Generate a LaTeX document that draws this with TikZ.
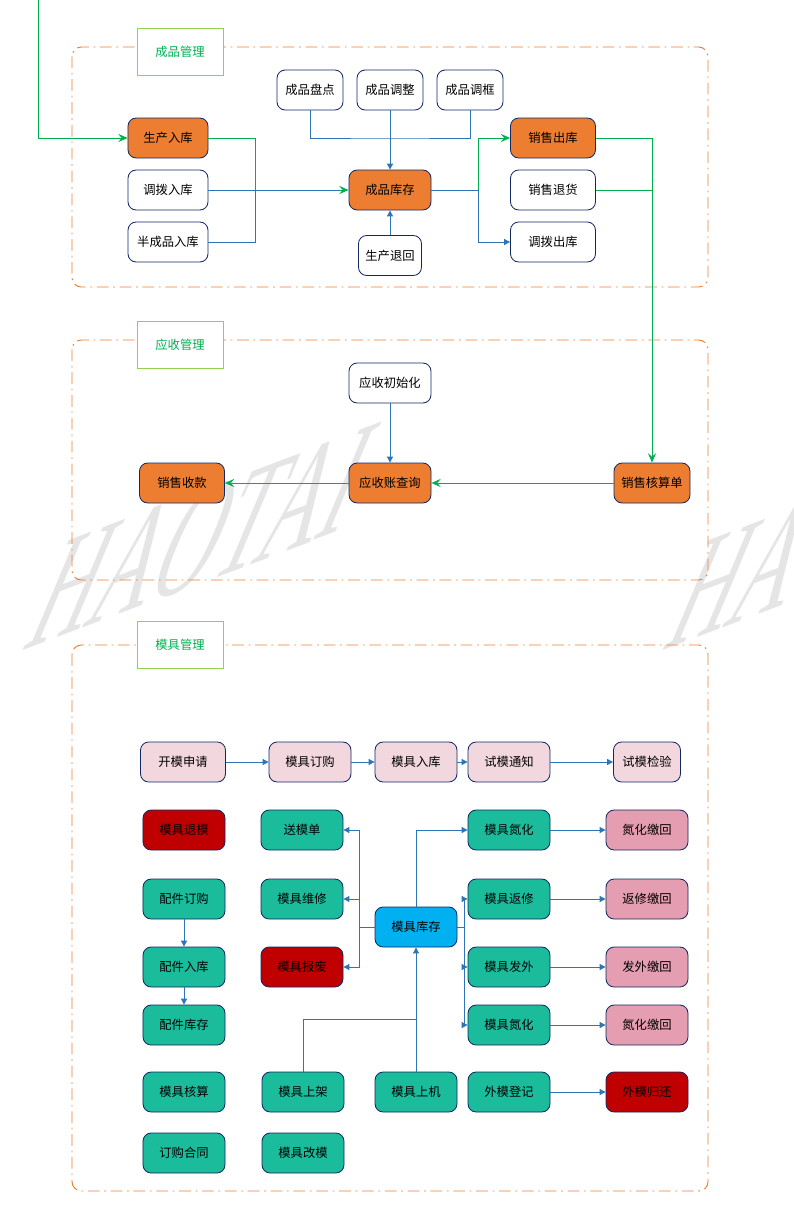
\documentclass[tikz,border=0pt]{standalone}
\usepackage{fontspec}
\setmainfont{Noto Sans CJK SC}
\newfontfamily\wmfont{Liberation Serif}
\usetikzlibrary{arrows.meta, positioning}
\definecolor{orange1}{RGB}{237,125,49}
\definecolor{navy1}{RGB}{16,40,100}
\definecolor{blue1}{RGB}{46,117,182}
\definecolor{green1}{RGB}{0,176,80}
\definecolor{lime1}{RGB}{146,208,80}
\definecolor{pink1}{RGB}{242,215,222}
\definecolor{pink2}{RGB}{229,157,177}
\definecolor{teal1}{RGB}{26,188,156}
\definecolor{red1}{RGB}{192,0,0}
\definecolor{sky1}{RGB}{0,176,240}

\begin{document}
\begin{tikzpicture}[
  x=0.03cm, y=-0.03cm,
  fbox/.style={draw=navy1, fill=white, line width=0.7pt, rounded corners=7pt, minimum width=2.4cm, minimum height=1.2cm, inner sep=2pt, font=\fontsize{10.5}{12}\selectfont},
  obox/.style={fbox, fill=orange1},
  pbox/.style={fbox, fill=pink1, minimum width=2.46cm},
  kbox/.style={fbox, fill=pink2, minimum width=2.46cm},
  tbox/.style={fbox, fill=teal1, minimum width=2.46cm},
  rbox/.style={fbox, fill=red1, minimum width=2.46cm},
  sbox/.style={fbox, fill=sky1, minimum width=2.46cm},
  tag/.style={draw=lime1, fill=white, line width=0.8pt, minimum width=2.58cm, minimum height=1.41cm, text=green1, font=\fontsize{10.5}{12}\selectfont},
  panel/.style={draw=orange1, line width=0.8pt, rounded corners=8pt, dash pattern=on 10pt off 4pt on 1.5pt off 4pt},
  bline/.style={draw=blue1, line width=0.8pt},
  gline/.style={draw=green1, line width=0.8pt},
  barr/.style={bline, -{Triangle[length=5pt,width=5pt]}},
  garr/.style={gline, -{Stealth[length=8pt,width=7pt,inset=3pt]}},
  wmark/.style={transform shape, cm={0.567,0.215,0.47,1.12,(0,0)}, anchor=base west, inner sep=0pt, text=black!10, font=\wmfont\fontsize{128}{128}\selectfont}
]
  \useasboundingbox (0,0) rectangle (794,1226);

  % watermark
  \begin{scope}[shift={(20,652)}]
    \node[wmark] (wm1) at (0,0) {HAOTAI};
  \end{scope}
  \begin{scope}[shift={(660,652)}]
    \node[wmark] (wm2) at (0,0) {HAOTAI};
  \end{scope}

  % 成品管理
  \draw[panel] (72,47) rectangle (708,287);
  \node[tag] (tag1) at (180,51.5) {成品管理};
  \node[fbox, minimum width=1.98cm] (cppd) at (310,90) {成品盘点};
  \node[fbox, minimum width=1.98cm] (cptz) at (390,90) {成品调整};
  \node[fbox, minimum width=1.98cm] (cptk) at (470,90) {成品调框};
  \node[obox] (scrk) at (168,138) {生产入库};
  \node[fbox] (dbrk) at (168,190) {调拨入库};
  \node[fbox] (bcprk) at (168,242) {半成品入库};
  \node[obox, minimum width=2.46cm] (cpkc) at (390,190) {成品库存};
  \node[fbox, minimum width=1.89cm] (sctk) at (390,255.5) {生产退回};
  \node[obox, minimum width=2.55cm] (xsck) at (553,138) {销售出库};
  \node[fbox, minimum width=2.55cm] (xsth) at (553,190) {销售退货};
  \node[fbox, minimum width=2.55cm] (dbck) at (553,242) {调拨出库};

  \coordinate (top) at (38,0);
  \coordinate (j1) at (255,190);
  \coordinate (j2) at (390,138);
  \coordinate (j3) at (478,190);
  \draw[garr] (top) |- (scrk);
  \draw[bline] (bcprk) -| (j1);
  \draw[garr] (scrk) -| (j1) -- (cpkc);
  \draw[bline, shorten >=8pt] (dbrk) -- (cpkc);
  \draw[bline] (cppd) |- (j2) -| (cptk);
  \draw[barr] (cptz) -- (cpkc);
  \draw[barr] (sctk) -- (cpkc);
  \draw[bline] (cpkc) -- (j3);
  \draw[barr] (j3) |- (dbck);
  \draw[garr] (j3) |- (xsck);

  % 应收管理
  \draw[panel] (72,340) rectangle (708,580);
  \node[tag] (tag2) at (180,345) {应收管理};
  \node[fbox, minimum width=2.46cm] (yscsh) at (390,383) {应收初始化};
  \node[obox, minimum width=2.46cm] (yszcx) at (390,483) {应收账查询};
  \node[obox, minimum width=2.55cm] (xssk) at (182,483) {销售收款};
  \node[obox, minimum width=2.28cm] (xshs) at (652,483) {销售核算单};

  \draw[gline] (xsth) -- (xsth -| xshs);
  \draw[garr] (xsck) -| (xshs);
  \draw[barr] (yscsh) -- (yszcx);
  \draw[garr] (xshs) -- (yszcx);
  \draw[garr] (yszcx) -- (xssk);

  % 模具管理
  \draw[panel] (72,645) rectangle (708,1191);
  \node[tag] (tag3) at (180,645) {模具管理};
  \node[pbox, minimum width=2.55cm] (kmsq) at (183,762) {开模申请};
  \node[pbox] (mjdg) at (310,762) {模具订购};
  \node[pbox] (mjrk) at (416,762) {模具入库};
  \node[pbox] (smtz) at (509,762) {试模通知};
  \node[pbox, minimum width=2.01cm] (smjy) at (647,762) {试模检验};

  \node[rbox] (mjtm) at (184,830) {模具退模};
  \node[tbox] (smd) at (302,830) {送模单};
  \node[tbox] (mjdh) at (509,830) {模具氮化};
  \node[kbox] (dhjh) at (647,830) {氮化缴回};

  \node[tbox] (pjdg) at (184,899) {配件订购};
  \node[tbox] (mjwx) at (302,899) {模具维修};
  \node[tbox] (mjfx) at (509,899) {模具返修};
  \node[kbox] (fxjh) at (647,899) {返修缴回};

  \node[sbox] (mjkc) at (416,927) {模具库存};

  \node[tbox] (pjrk) at (184,967) {配件入库};
  \node[rbox] (mjbf) at (302,967) {模具报废};
  \node[tbox] (mjfw) at (509,967) {模具发外};
  \node[kbox] (fwjh) at (647,967) {发外缴回};

  \node[tbox] (pjkc) at (184,1025) {配件库存};
  \node[tbox] (mjdh2) at (509,1025) {模具氮化};
  \node[kbox] (dhjh2) at (647,1025) {氮化缴回};

  \node[tbox] (mjhs) at (184,1092) {模具核算};
  \node[tbox] (mjsj) at (303,1092) {模具上架};
  \node[tbox] (mjsji) at (416,1092) {模具上机};
  \node[tbox] (wmdj) at (509,1092) {外模登记};
  \node[rbox] (wmgh) at (647,1092) {外模归还};

  \node[tbox] (dght) at (184,1153) {订购合同};
  \node[tbox] (mjgm) at (303,1153) {模具改模};

  \draw[barr] (kmsq) -- (mjdg);
  \draw[barr] (mjdg) -- (mjrk);
  \draw[barr] (mjrk) -- (smtz);
  \draw[barr] (smtz) -- (smjy);
  \draw[barr] (pjdg) -- (pjrk);
  \draw[barr] (pjrk) -- (pjkc);

  \coordinate (k1) at (359,927);
  \coordinate (k2) at (464,927);
  \coordinate (k3) at (416,1019);
  \draw[bline] (mjkc) -- (k1);
  \draw[barr] (k1) |- (smd);
  \draw[barr] (k1) |- (mjwx);
  \draw[barr] (k1) |- (mjbf);
  \draw[barr] (mjkc) |- (mjdh);
  \draw[bline] (mjkc) -- (k2);
  \draw[barr] (k2) |- (mjfx);
  \draw[barr] (k2) |- (mjfw);
  \draw[barr] (k2) |- (mjdh2);
  \draw[barr] (mjsji) -- (mjkc);
  \draw[bline] (mjsj) |- (k3);

  \draw[barr] (mjdh) -- (dhjh);
  \draw[barr] (mjfx) -- (fxjh);
  \draw[barr] (mjfw) -- (fwjh);
  \draw[barr] (mjdh2) -- (dhjh2);
  \draw[barr] (wmdj) -- (wmgh);
\end{tikzpicture}
\end{document}
